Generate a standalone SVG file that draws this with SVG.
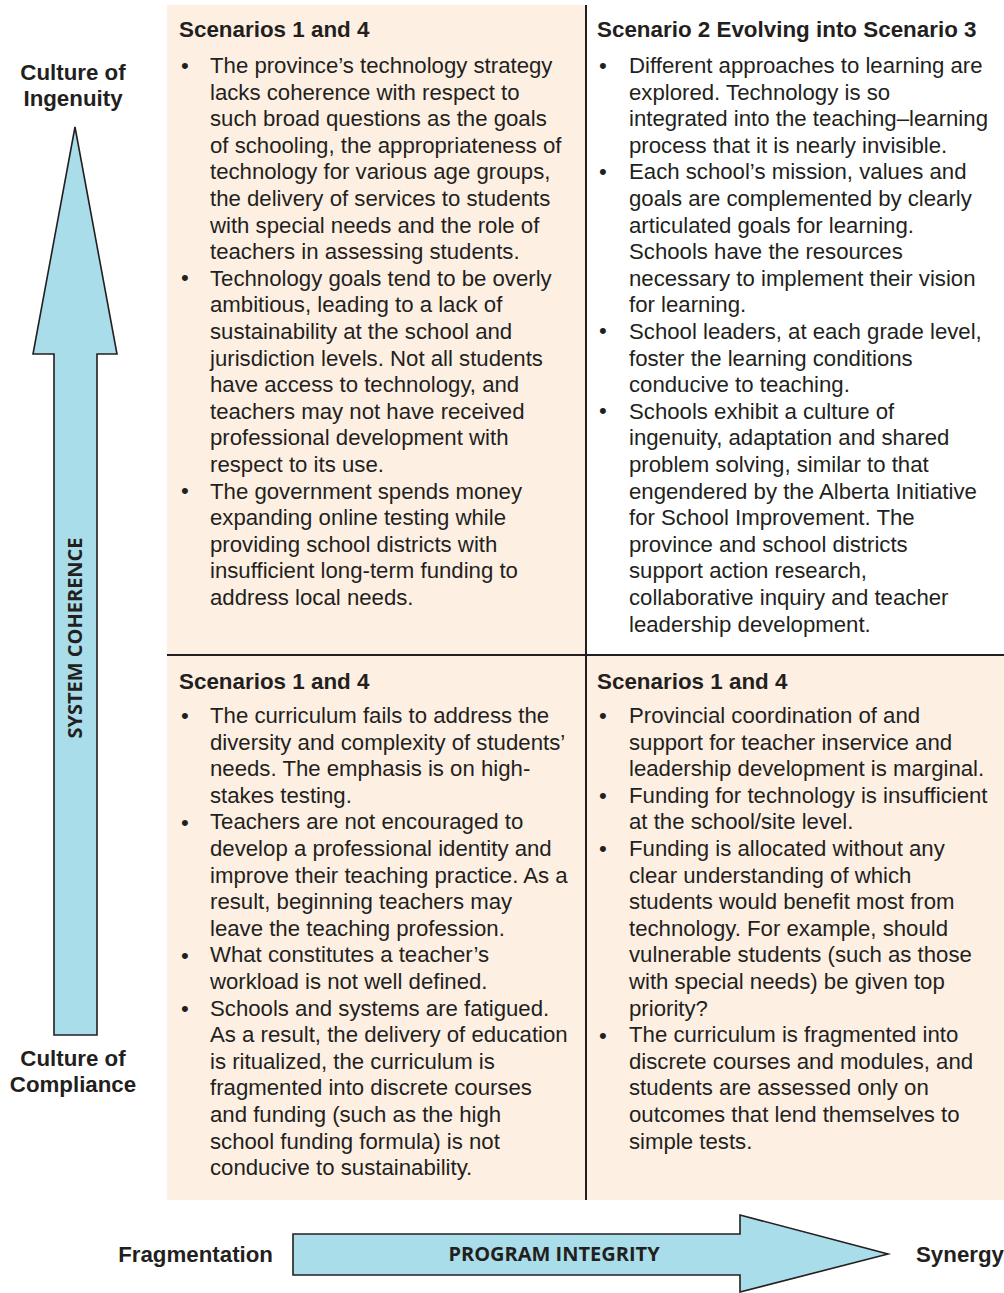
<svg xmlns="http://www.w3.org/2000/svg" width="1004" height="1293" viewBox="0 0 1004 1293">
<style>
.bg{fill:#fff}
.peach{fill:#feefe3}
.rule{stroke:#231f20;stroke-width:2;fill:none}
.arrow{fill:#a8dde9;stroke:#231f20;stroke-width:1.6;stroke-linejoin:miter}
.hd{font-family:"Liberation Sans",Arial,sans-serif;font-weight:bold;font-size:22.4px;fill:#231f20}
.tx{font-family:"Liberation Sans",Arial,sans-serif;font-size:22.2px;fill:#231f20}
.lbl{font-family:"Liberation Sans",Arial,sans-serif;font-weight:bold;font-size:22.3px;fill:#231f20}
.ax{font-family:"Open Sans",sans-serif;font-weight:bold;font-size:20px;fill:#231f20}
</style>
<rect class="bg" x="0" y="0" width="1004" height="1293"/>

<g id="quadrant-top-left">
<rect class="peach" x="167" y="5" width="419" height="650"/>
<text class="hd" x="179" y="37">Scenarios 1 and 4</text>
<text class="tx" x="181" y="73">•</text>
<text class="tx" x="181" y="285">•</text>
<text class="tx" x="181" y="498">•</text>
<text class="tx" x="210" y="73"><tspan x="210">The province’s technology strategy</tspan><tspan x="210" dy="26.6">lacks coherence with respect to</tspan><tspan x="210" dy="26.6">such broad questions as the goals</tspan><tspan x="210" dy="26.6">of schooling, the appropriateness of</tspan><tspan x="210" dy="26.6">technology for various age groups,</tspan><tspan x="210" dy="26.6">the delivery of services to students</tspan><tspan x="210" dy="26.6">with special needs and the role of</tspan><tspan x="210" dy="26.6">teachers in assessing students.</tspan><tspan x="210" dy="26.6">Technology goals tend to be overly</tspan><tspan x="210" dy="26.6">ambitious, leading to a lack of</tspan><tspan x="210" dy="26.6">sustainability at the school and</tspan><tspan x="210" dy="26.6">jurisdiction levels. Not all students</tspan><tspan x="210" dy="26.6">have access to technology, and</tspan><tspan x="210" dy="26.6">teachers may not have received</tspan><tspan x="210" dy="26.6">professional development with</tspan><tspan x="210" dy="26.6">respect to its use.</tspan><tspan x="210" dy="26.6">The government spends money</tspan><tspan x="210" dy="26.6">expanding online testing while</tspan><tspan x="210" dy="26.6">providing school districts with</tspan><tspan x="210" dy="26.6">insufficient long-term funding to</tspan><tspan x="210" dy="26.6">address local needs.</tspan></text>
</g>

<g id="quadrant-top-right">
<text class="hd" x="597" y="37">Scenario 2 Evolving into Scenario 3</text>
<text class="tx" x="599" y="73">•</text>
<text class="tx" x="599" y="179">•</text>
<text class="tx" x="599" y="338">•</text>
<text class="tx" x="599" y="418">•</text>
<text class="tx" x="629" y="73"><tspan x="629">Different approaches to learning are</tspan><tspan x="629" dy="26.6">explored. Technology is so</tspan><tspan x="629" dy="26.6">integrated into the teaching–learning</tspan><tspan x="629" dy="26.6">process that it is nearly invisible.</tspan><tspan x="629" dy="26.6">Each school’s mission, values and</tspan><tspan x="629" dy="26.6">goals are complemented by clearly</tspan><tspan x="629" dy="26.6">articulated goals for learning.</tspan><tspan x="629" dy="26.6">Schools have the resources</tspan><tspan x="629" dy="26.6">necessary to implement their vision</tspan><tspan x="629" dy="26.6">for learning.</tspan><tspan x="629" dy="26.6">School leaders, at each grade level,</tspan><tspan x="629" dy="26.6">foster the learning conditions</tspan><tspan x="629" dy="26.6">conducive to teaching.</tspan><tspan x="629" dy="26.6">Schools exhibit a culture of</tspan><tspan x="629" dy="26.6">ingenuity, adaptation and shared</tspan><tspan x="629" dy="26.6">problem solving, similar to that</tspan><tspan x="629" dy="26.6">engendered by the Alberta Initiative</tspan><tspan x="629" dy="26.6">for School Improvement. The</tspan><tspan x="629" dy="26.6">province and school districts</tspan><tspan x="629" dy="26.6">support action research,</tspan><tspan x="629" dy="26.6">collaborative inquiry and teacher</tspan><tspan x="629" dy="26.6">leadership development.</tspan></text>
</g>

<g id="quadrant-bottom-left">
<rect class="peach" x="167" y="655" width="419" height="545"/>
<text class="hd" x="179" y="689">Scenarios 1 and 4</text>
<text class="tx" x="181" y="723">•</text>
<text class="tx" x="181" y="830">•</text>
<text class="tx" x="181" y="963">•</text>
<text class="tx" x="181" y="1016">•</text>
<text class="tx" x="210" y="723"><tspan x="210">The curriculum fails to address the</tspan><tspan x="210" dy="26.6">diversity and complexity of students’</tspan><tspan x="210" dy="26.6">needs. The emphasis is on high-</tspan><tspan x="210" dy="26.6">stakes testing.</tspan><tspan x="210" dy="26.6">Teachers are not encouraged to</tspan><tspan x="210" dy="26.6">develop a professional identity and</tspan><tspan x="210" dy="26.6">improve their teaching practice. As a</tspan><tspan x="210" dy="26.6">result, beginning teachers may</tspan><tspan x="210" dy="26.6">leave the teaching profession.</tspan><tspan x="210" dy="26.6">What constitutes a teacher’s</tspan><tspan x="210" dy="26.6">workload is not well defined.</tspan><tspan x="210" dy="26.6">Schools and systems are fatigued.</tspan><tspan x="210" dy="26.6">As a result, the delivery of education</tspan><tspan x="210" dy="26.6">is ritualized, the curriculum is</tspan><tspan x="210" dy="26.6">fragmented into discrete courses</tspan><tspan x="210" dy="26.6">and funding (such as the high</tspan><tspan x="210" dy="26.6">school funding formula) is not</tspan><tspan x="210" dy="26.6">conducive to sustainability.</tspan></text>
</g>

<g id="quadrant-bottom-right">
<rect class="peach" x="586" y="655" width="418" height="545"/>
<text class="hd" x="597" y="689">Scenarios 1 and 4</text>
<text class="tx" x="599" y="723">•</text>
<text class="tx" x="599" y="803">•</text>
<text class="tx" x="599" y="856">•</text>
<text class="tx" x="599" y="1043">•</text>
<text class="tx" x="629" y="723"><tspan x="629">Provincial coordination of and</tspan><tspan x="629" dy="26.6">support for teacher inservice and</tspan><tspan x="629" dy="26.6">leadership development is marginal.</tspan><tspan x="629" dy="26.6">Funding for technology is insufficient</tspan><tspan x="629" dy="26.6">at the school/site level.</tspan><tspan x="629" dy="26.6">Funding is allocated without any</tspan><tspan x="629" dy="26.6">clear understanding of which</tspan><tspan x="629" dy="26.6">students would benefit most from</tspan><tspan x="629" dy="26.6">technology. For example, should</tspan><tspan x="629" dy="26.6">vulnerable students (such as those</tspan><tspan x="629" dy="26.6">with special needs) be given top</tspan><tspan x="629" dy="26.6">priority?</tspan><tspan x="629" dy="26.6">The curriculum is fragmented into</tspan><tspan x="629" dy="26.6">discrete courses and modules, and</tspan><tspan x="629" dy="26.6">students are assessed only on</tspan><tspan x="629" dy="26.6">outcomes that lend themselves to</tspan><tspan x="629" dy="26.6">simple tests.</tspan></text>
</g>

<g id="grid-lines">
<line class="rule" x1="586" y1="5" x2="586" y2="1200"/>
<line class="rule" x1="167" y1="655" x2="1004" y2="655"/>
</g>

<g id="connectors">
<g id="axis-system-coherence">
<polygon class="arrow" points="75,127 117,354 97,354 97,1035 54,1035 54,354 33,354"/>
<text class="ax" transform="translate(82,638) rotate(-90)" text-anchor="middle">SYSTEM COHERENCE</text>
</g>
<g id="axis-program-integrity">
<polygon class="arrow" points="293,1234 740,1234 740,1215 888,1254 740,1292 740,1275 293,1275"/>
<text class="ax" x="554" y="1261" text-anchor="middle">PROGRAM INTEGRITY</text>
</g>
</g>

<g id="axis-labels">
<text class="lbl" x="73" y="80" text-anchor="middle">Culture of</text>
<text class="lbl" x="73" y="106" text-anchor="middle">Ingenuity</text>
<text class="lbl" x="73" y="1066" text-anchor="middle">Culture of</text>
<text class="lbl" x="73" y="1092" text-anchor="middle">Compliance</text>
<text class="lbl" x="273" y="1262" text-anchor="end">Fragmentation</text>
<text class="lbl" x="916" y="1262">Synergy</text>
</g>
</svg>
